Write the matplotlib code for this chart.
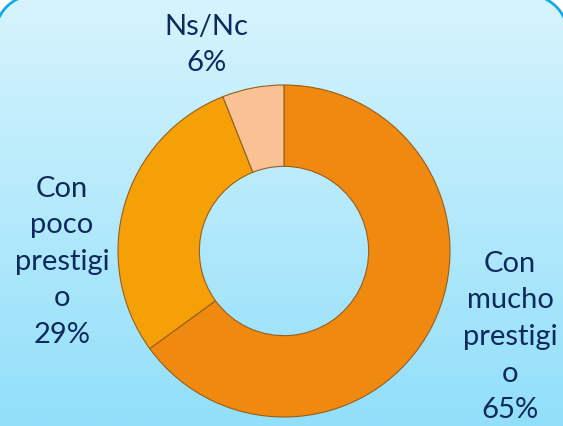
import matplotlib
matplotlib.use("Agg")
import matplotlib.pyplot as plt
import numpy as np
from matplotlib.patches import Polygon

categories = ["Con mucho prestigio", "Con poco prestigio", "Ns/Nc"]
label_texts = ["Con\nmucho\nprestigi\no\n65%", "Con\npoco\nprestigi\no\n29%", "Ns/Nc\n6%"]
values = [65, 29, 6]
colors = ["#F0890F", "#F6A007", "#F8C295"]

W, H = 563, 426
fig = plt.figure(figsize=(W / 100, H / 100), dpi=100)
fig.patch.set_facecolor("white")

# background gradient with rounded border (pixel coords, y down)
bg = fig.add_axes([0, 0, 1, 1])
bg.set_xlim(0, W)
bg.set_ylim(H, 0)
bg.axis("off")
top = np.array([0xD6, 0xF4, 0xFD]) / 255
bot = np.array([0x92, 0xDF, 0xFA]) / 255
t = np.linspace(0, 1, 256)[:, None]
grad = (top[None, :] * (1 - t) + bot[None, :] * t)[:, None, :]
grad = np.repeat(grad, 2, axis=1)

x0, y0, x1, y1, r = -5, -5, W + 5, H + 60, 40
pts = []
for (ccx, ccy, a0, a1) in [(x0 + r, y0 + r, 180, 270), (x1 - r, y0 + r, 270, 360),
                           (x1 - r, y1 - r, 0, 90), (x0 + r, y1 - r, 90, 180)]:
    a = np.radians(np.linspace(a0, a1, 30))
    pts += list(zip(ccx + r * np.cos(a), ccy + r * np.sin(a)))
rect = Polygon(pts, closed=True, facecolor="none", edgecolor="#18A8E8",
               linewidth=2.0, zorder=3)
bg.add_patch(rect)
im = bg.imshow(grad, extent=[0, W, H, 0], aspect="auto", zorder=1)
im.set_clip_path(rect)
bg.set_xlim(0, W)
bg.set_ylim(H, 0)

# donut
cx, cy, R = 284, 251, 166
ax = fig.add_axes([(cx - R) / W, (H - cy - R) / H, 2 * R / W, 2 * R / H])
wedges, _ = ax.pie(values, colors=colors, startangle=90, counterclock=False,
                   radius=1.0, wedgeprops=dict(width=0.49, edgecolor="#9A5E1C",
                                               linewidth=0.8))
ax.set_xlim(-1, 1)
ax.set_ylim(-1, 1)
ax.axis("off")

txt_color = "#0E2A5C"
font = ["Lato", "DejaVu Sans"]
pos = [((510 - cx) / R, (cy - 337) / R),
       ((62 - cx) / R, (cy - 262) / R),
       ((206 - cx) / R, (cy - 45) / R)]
for (x, y), s in zip(pos, label_texts):
    ax.text(x, y, s, ha="center", va="center", fontsize=21, color=txt_color,
            family=font, linespacing=1.5, clip_on=False)

fig.savefig("out.png", dpi=100, facecolor="white")
